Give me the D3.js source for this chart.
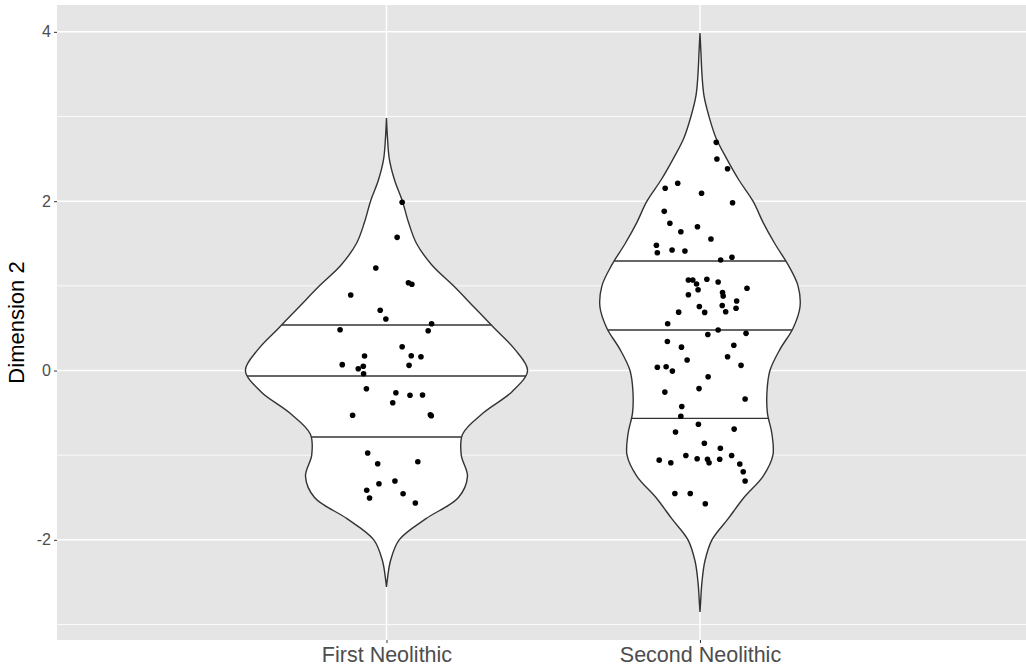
<!DOCTYPE html>
<html>
<head>
<meta charset="utf-8">
<script src="https://cdn.jsdelivr.net/npm/d3@7"></script>
<style>
  html, body { margin: 0; padding: 0; background: #ffffff; }
  svg { display: block; }
  text { font-family: "Liberation Sans", Arial, Helvetica, sans-serif; }
</style>
</head>
<body>
<svg id="chart" width="1026" height="671"></svg>
<script>
// Groups along the x axis
const categories = ["First Neolithic", "Second Neolithic"];

// Y axis ticks
const yTicks = [-2, 0, 2, 4];
const yMinorTicks = [-3, -1, 1, 3];

// Kernel density outline of each group: [value, relative density]
const densityFirst = [
  [-2.557, 0], [-2.5, 0.004], [-2.25, 0.028], [-2.0, 0.09], [-1.75, 0.28],
  [-1.5, 0.51], [-1.25, 0.574], [-1.0, 0.53], [-0.75, 0.54], [-0.5, 0.687],
  [-0.25, 0.89], [0.0, 1.0], [0.25, 0.91], [0.5, 0.765], [0.75, 0.62],
  [1.0, 0.475], [1.25, 0.32], [1.5, 0.213], [1.75, 0.156], [2.0, 0.113],
  [2.25, 0.057], [2.5, 0.02], [2.75, 0.007], [2.982, 0]
];
const densitySecond = [
  [-2.852, 0], [-2.75, 0.004], [-2.5, 0.014], [-2.25, 0.035], [-2.0, 0.085],
  [-1.75, 0.2], [-1.5, 0.312], [-1.25, 0.447], [-1.0, 0.517], [-0.75, 0.51],
  [-0.5, 0.478], [-0.25, 0.475], [0.0, 0.496], [0.25, 0.567], [0.5, 0.66],
  [0.75, 0.709], [1.0, 0.695], [1.25, 0.624], [1.5, 0.53], [1.75, 0.447],
  [2.0, 0.376], [2.25, 0.276], [2.5, 0.19], [2.75, 0.113], [3.0, 0.064],
  [3.25, 0.028], [3.5, 0.014], [3.75, 0.007], [3.986, 0]
];

// Quartiles drawn across each violin (25%, 50%, 75%)
const quantilesFirst = [-0.785, -0.065, 0.537];
const quantilesSecond = [-0.565, 0.478, 1.293];

// Observations: [horizontal jitter in group units, value]
const pointsFirst = [
  [0.050, 1.987], [0.034, 1.573], [-0.034, 1.211], [0.070, 1.037], [0.081, 1.018],
  [-0.114, 0.892], [-0.020, 0.711], [-0.002, 0.608], [0.144, 0.553], [-0.148, 0.482],
  [0.133, 0.470], [0.050, 0.281], [-0.070, 0.171], [0.079, 0.175], [0.110, 0.163],
  [-0.141, 0.069], [-0.074, 0.050], [-0.090, 0.021], [0.072, 0.061], [-0.073, -0.038],
  [-0.064, -0.215], [0.030, -0.262], [0.075, -0.293], [0.115, -0.289], [0.020, -0.380],
  [-0.108, -0.529], [0.140, -0.522], [0.143, -0.534], [-0.060, -0.974], [-0.028, -1.101],
  [0.100, -1.077], [-0.024, -1.337], [0.027, -1.305], [-0.063, -1.415], [-0.054, -1.506],
  [0.053, -1.455], [0.092, -1.565]
];
const pointsSecond = [
  [0.052, 2.695], [0.054, 2.498], [0.088, 2.383], [-0.071, 2.211], [-0.111, 2.152],
  [0.005, 2.093], [0.104, 1.982], [-0.114, 1.880], [-0.096, 1.739], [-0.008, 1.698],
  [-0.061, 1.639], [0.035, 1.553], [-0.139, 1.479], [-0.136, 1.391], [-0.089, 1.423],
  [-0.048, 1.411], [0.102, 1.337], [0.066, 1.305], [0.022, 1.077], [-0.037, 1.069],
  [-0.023, 1.069], [0.058, 1.045], [-0.011, 1.022], [0.150, 0.971], [-0.006, 0.954],
  [0.072, 0.921], [-0.037, 0.894], [0.074, 0.880], [0.117, 0.821], [0.071, 0.768],
  [-0.002, 0.756], [0.115, 0.735], [-0.068, 0.689], [0.015, 0.686], [0.082, 0.694],
  [-0.103, 0.552], [0.058, 0.478], [0.147, 0.439], [0.025, 0.425], [-0.104, 0.343],
  [0.108, 0.298], [-0.059, 0.276], [0.088, 0.162], [-0.041, 0.124], [0.131, 0.061],
  [-0.108, 0.045], [-0.136, 0.038], [-0.088, -0.007], [0.026, -0.074], [-0.003, -0.214],
  [-0.112, -0.255], [0.144, -0.337], [-0.058, -0.425], [-0.061, -0.540], [-0.005, -0.635],
  [0.109, -0.692], [-0.078, -0.726], [0.014, -0.860], [0.065, -0.919], [-0.045, -1.004],
  [0.101, -1.004], [-0.009, -1.042], [0.024, -1.049], [0.063, -1.049], [0.029, -1.089],
  [-0.130, -1.059], [-0.093, -1.089], [0.127, -1.104], [0.138, -1.195], [0.144, -1.305],
  [-0.080, -1.453], [-0.031, -1.453], [0.017, -1.574]
];

const groups = [
  { name: categories[0], density: densityFirst, quantiles: quantilesFirst, points: pointsFirst },
  { name: categories[1], density: densitySecond, quantiles: quantilesSecond, points: pointsSecond }
];

// Panel geometry
const panel = { left: 57, right: 1026, top: 5, bottom: 640 };

const x = d3.scaleLinear().domain([-0.051, 3.040]).range([panel.left, panel.right]);
const y = d3.scaleLinear().domain([-3.183, 4.317]).range([panel.bottom, panel.top]);
// Relative density -> half width in group units (violin width 0.9)
const halfWidth = d3.scaleLinear().domain([0, 1]).range([0, 0.45]);

const svg = d3.select("#chart");

// Panel background
svg.append("rect")
  .attr("x", panel.left).attr("y", panel.top)
  .attr("width", panel.right - panel.left).attr("height", panel.bottom - panel.top)
  .attr("fill", "#E5E5E5");

// Grid lines
const grid = svg.append("g");
grid.selectAll("line.minor").data(yMinorTicks).join("line")
  .attr("x1", panel.left).attr("x2", panel.right)
  .attr("y1", d => y(d)).attr("y2", d => y(d))
  .attr("stroke", "#ffffff").attr("stroke-width", 0.8);
grid.selectAll("line.major").data(yTicks).join("line")
  .attr("x1", panel.left).attr("x2", panel.right)
  .attr("y1", d => y(d)).attr("y2", d => y(d))
  .attr("stroke", "#ffffff").attr("stroke-width", 1.5);
grid.selectAll("line.vmajor").data(categories).join("line")
  .attr("x1", (d, i) => x(i + 1)).attr("x2", (d, i) => x(i + 1))
  .attr("y1", panel.top).attr("y2", panel.bottom)
  .attr("stroke", "#ffffff").attr("stroke-width", 1.5);

// Violins
const defs = svg.append("defs");
groups.forEach((g, i) => {
  const c = i + 1;
  const area = d3.area()
    .curve(d3.curveCatmullRom.alpha(0.5))
    .y(d => y(d[0]))
    .x0(d => x(c - halfWidth(d[1])))
    .x1(d => x(c + halfWidth(d[1])));
  const pathD = area(g.density);

  defs.append("clipPath").attr("id", "violin-clip-" + i)
    .append("path").attr("d", pathD);

  const vg = svg.append("g");
  vg.append("path")
    .attr("d", pathD)
    .attr("fill", "#ffffff")
    .attr("stroke", "none");

  // Quartile lines, clipped to the violin outline
  vg.append("g").attr("clip-path", "url(#violin-clip-" + i + ")")
    .selectAll("line").data(g.quantiles).join("line")
    .attr("x1", x(c - 0.5)).attr("x2", x(c + 0.5))
    .attr("y1", d => y(d)).attr("y2", d => y(d))
    .attr("stroke", "#333333").attr("stroke-width", 1.4);

  vg.append("path")
    .attr("d", pathD)
    .attr("fill", "none")
    .attr("stroke", "#333333")
    .attr("stroke-width", 1.4);

  // Jittered observations
  vg.append("g").selectAll("circle").data(g.points).join("circle")
    .attr("cx", d => x(c + d[0]))
    .attr("cy", d => y(d[1]))
    .attr("r", 2.8)
    .attr("fill", "#000000");
});

// Y axis
const yAxis = d3.axisLeft(y).tickValues(yTicks).tickSize(3).tickPadding(3)
  .tickFormat(d => String(d));
const yg = svg.append("g").attr("transform", `translate(${panel.left},0)`).call(yAxis);
yg.select(".domain").remove();
yg.selectAll(".tick line").attr("stroke", "#333333").attr("stroke-width", 1);
yg.selectAll(".tick text")
  .attr("fill", "#4D4D4D")
  .style("font-size", "16px")
  .style("font-family", "'Liberation Sans', Arial, sans-serif");

// X axis
const xAxis = d3.axisBottom(x).tickValues([1, 2]).tickSize(3).tickPadding(4)
  .tickFormat(d => categories[d - 1]);
const xg = svg.append("g").attr("transform", `translate(0,${panel.bottom})`).call(xAxis);
xg.select(".domain").remove();
xg.selectAll(".tick line").attr("stroke", "#333333").attr("stroke-width", 1);
xg.selectAll(".tick text")
  .attr("fill", "#4D4D4D")
  .style("font-size", "21.5px")
  .style("font-family", "'Liberation Sans', Arial, sans-serif");

// Y axis title
svg.append("text")
  .attr("transform", `translate(24,${(panel.top + panel.bottom) / 2}) rotate(-90)`)
  .attr("text-anchor", "middle")
  .attr("fill", "#000000")
  .style("font-size", "22px")
  .text("Dimension 2");
</script>
</body>
</html>
